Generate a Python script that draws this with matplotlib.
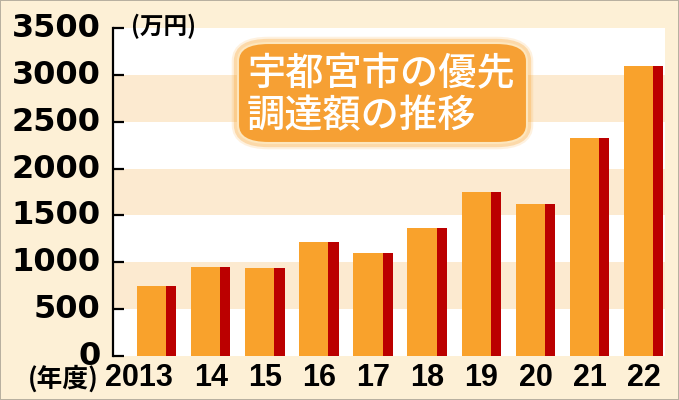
import matplotlib.pyplot as plt
from matplotlib.patches import FancyBboxPatch
from matplotlib.transforms import offset_copy

plt.rcParams['font.family'] = ['Noto Sans CJK JP', 'DejaVu Sans']

years = ['2013', '14', '15', '16', '17', '18', '19', '20', '21', '22']
amounts = [750, 950, 940, 1220, 1100, 1370, 1750, 1620, 2330, 3090]
y_ticks = [0, 500, 1000, 1500, 2000, 2500, 3000, 3500]
title_lines = ['宇都宮市の優先', '調達額の推移']
unit_label = '(万円)'
year_label = '(年度)'

bg = '#fdf0d6'
band = '#fcead0'
orange = '#f9a22c'
dark_red = '#bb0000'

fig = plt.figure(figsize=(6.79, 4.0), dpi=100, facecolor=bg)
fig.patch.set_edgecolor('#b8b0a0')
fig.patch.set_linewidth(1.2)
ax = fig.add_axes([113 / 679, 44 / 400, 552 / 679, 328 / 400])
ax.set_facecolor(band)

# alternating white bands
for lo in y_ticks[:-1:2]:
    ax.axhspan(lo, lo + 500, color='white', zorder=0, lw=0)

x = list(range(len(years)))
left = [i - 0.36 for i in x]
ax.bar(left, amounts, width=0.54, align='edge', color=orange, zorder=2, lw=0)
ax.bar([l + 0.54 for l in left], amounts, width=0.19, align='edge',
       color=dark_red, zorder=2, lw=0)

ax.set_xlim(-0.80, 9.40)
ax.set_ylim(0, 3500)

for s in ['top', 'right', 'bottom']:
    ax.spines[s].set_visible(False)
ax.spines['left'].set_linewidth(1.6)

ax.set_yticks(y_ticks)
ax.set_yticklabels([str(v) for v in y_ticks], fontsize=23,
                   fontweight='bold', family='DejaVu Sans')
ax.tick_params(axis='y', direction='in', length=8, width=1.6, pad=9)
for t in ax.get_yticklabels():
    t.set_transform(offset_copy(t.get_transform(), fig=fig, y=3, units='dots'))

ax.set_xticks([i + 0.01 for i in x])
ax.set_xticklabels(years, fontsize=22, fontweight='bold', family='Liberation Sans')
ax.tick_params(axis='x', length=0, pad=5)
lbl0 = ax.get_xticklabels()[0]
lbl0.set_ha('right')
lbl0.set_transform(offset_copy(lbl0.get_transform(), fig=fig, x=16, units='dots'))

fig.text(131 / 679, 1 - 26 / 400, unit_label, fontsize=17, fontweight='bold',
         ha='left', va='center')
fig.text(99 / 679, 1 - 379 / 400, year_label, fontsize=18.5, fontweight='bold',
         ha='right', va='center')

# title box with soft glow
x0, y0 = 238 / 679, 1 - 143 / 400
w, h = (527 - 238) / 679, (143 - 43) / 400
box = 'round,pad=0,rounding_size=0.045'
for lw, a in [(9, 0.15), (6, 0.3)]:
    fig.patches.append(FancyBboxPatch((x0, y0), w, h, boxstyle=box,
                                      transform=fig.transFigure, fc='none',
                                      ec=orange, lw=lw, alpha=a, zorder=3))
fig.patches.append(FancyBboxPatch((x0, y0), w, h, boxstyle=box,
                                  transform=fig.transFigure, fc='#f6a034',
                                  ec='#fde6bd', lw=1.5, zorder=4))
fig.text(247 / 679, 1 - 74 / 400, title_lines[0], fontsize=27.5, color='white',
         fontweight='medium', ha='left', va='center', zorder=5)
fig.text(247 / 679, 1 - 116 / 400, title_lines[1], fontsize=27.5, color='white',
         fontweight='medium', ha='left', va='center', zorder=5)

fig.savefig('out.png', dpi=100, facecolor=bg, edgecolor=fig.patch.get_edgecolor())
